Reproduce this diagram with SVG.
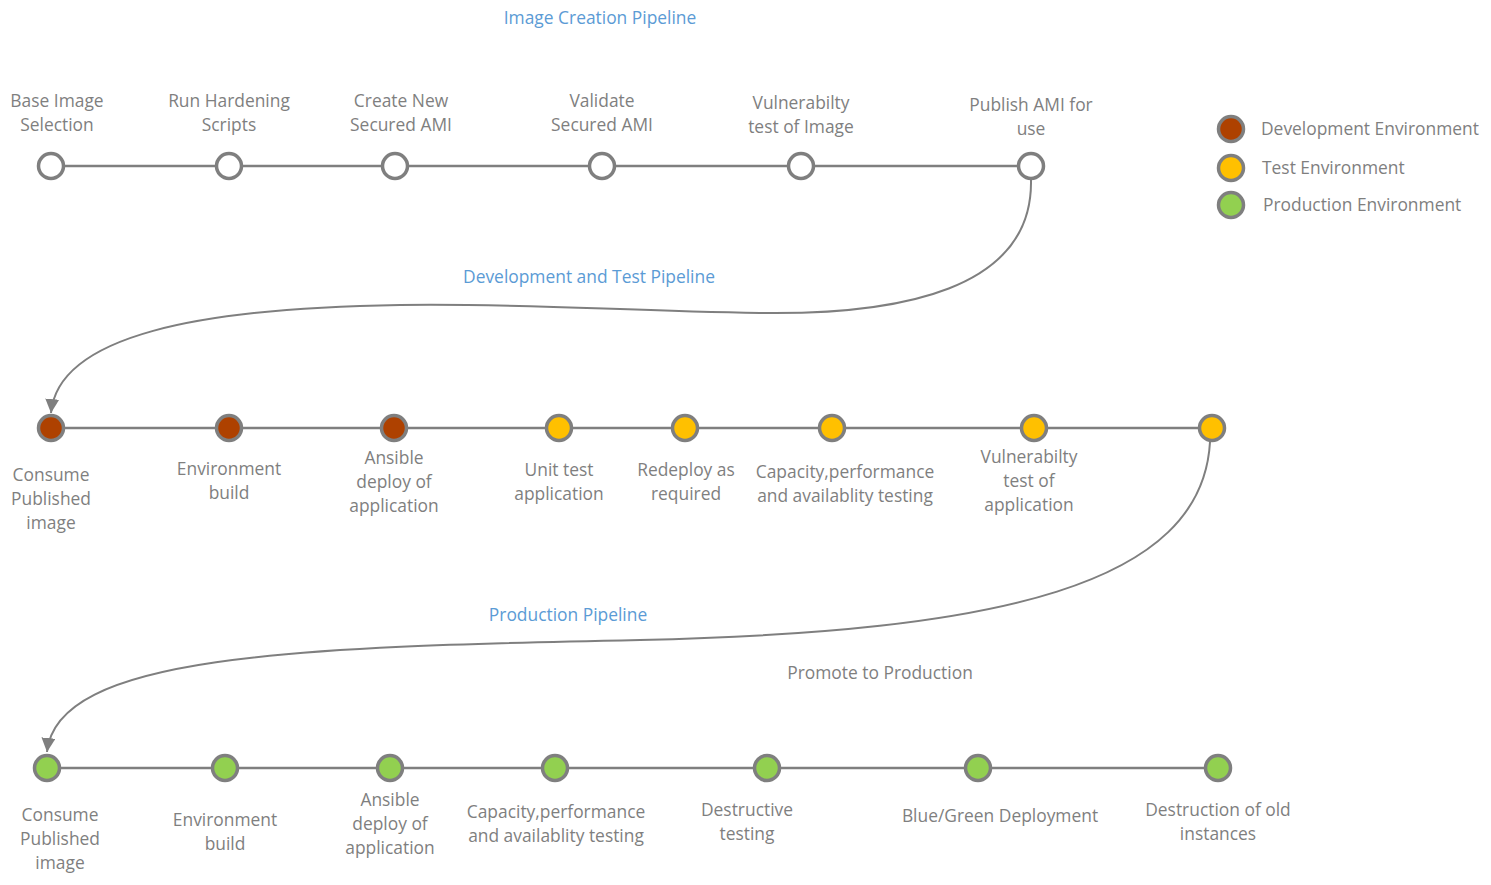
<svg xmlns="http://www.w3.org/2000/svg" width="1491" height="885" viewBox="0 0 1491 885">
  <style>
    text { font-family: "Open Sans", "Noto Sans", sans-serif; font-size: 17.4px; fill: #7f7f7f; text-anchor: middle; }
    text.title { fill: #5b9bd5; }
    text.legend { text-anchor: start; }
    .rail { stroke: #7f7f7f; stroke-width: 2.5; fill: none; }
    .flow { stroke: #7f7f7f; stroke-width: 2; fill: none; marker-end: url(#arrow); }
    .node { stroke: #7f7f7f; stroke-width: 3.5; }
    .blank { fill: #ffffff; }
    .dev { fill: #ae4100; }
    .test { fill: #ffc000; }
    .prod { fill: #92d050; }
  </style>
  <defs>
    <marker id="arrow" viewBox="0 0 10 10" refX="10" refY="5" markerWidth="7" markerHeight="7" orient="auto" markerUnits="strokeWidth">
      <path d="M0,0 L10,5 L0,10 Z" fill="#7f7f7f"/>
    </marker>
  </defs>

  <rect width="1491" height="885" fill="#ffffff"/>

  <!-- section headings -->
  <text class="title" x="600" y="24">Image Creation Pipeline</text>
  <text class="title" x="589" y="283">Development and Test Pipeline</text>
  <text class="title" x="568" y="621">Production Pipeline</text>
  <text x="880" y="679">Promote to Production</text>

  <!-- connectors: rails and pipeline hand-offs -->
  <g id="connectors">
    <line class="rail" x1="51" y1="166" x2="1031" y2="166"/>
    <line class="rail" x1="51" y1="428" x2="1212" y2="428"/>
    <line class="rail" x1="47" y1="768" x2="1218" y2="768"/>
    <path class="flow" d="M1031,180 C1033,290 900,315 760,313 C620,311 520,303 400,305 C200,308 58,335 51,413"/>
    <path class="flow" d="M1210,442 C1202,585 1000,632 640,640 C290,647 57,655 47,752"/>
  </g>

  <!-- image creation stage -->
  <g id="img-base"><circle class="node blank" cx="51" cy="166" r="12.5"/><text x="57" y="107">Base Image</text><text x="57" y="131">Selection</text></g>
  <g id="img-harden"><circle class="node blank" cx="229" cy="166" r="12.5"/><text x="229" y="107">Run Hardening</text><text x="229" y="131">Scripts</text></g>
  <g id="img-create"><circle class="node blank" cx="395" cy="166" r="12.5"/><text x="401" y="107">Create New</text><text x="401" y="131">Secured AMI</text></g>
  <g id="img-validate"><circle class="node blank" cx="602" cy="166" r="12.5"/><text x="602" y="107">Validate</text><text x="602" y="131">Secured AMI</text></g>
  <g id="img-vuln"><circle class="node blank" cx="801" cy="166" r="12.5"/><text x="801" y="109">Vulnerabilty</text><text x="801" y="133">test of Image</text></g>
  <g id="img-publish"><circle class="node blank" cx="1031" cy="166" r="12.5"/><text x="1031" y="111">Publish AMI for</text><text x="1031" y="135">use</text></g>

  <!-- legend -->
  <g id="legend-dev"><circle class="node dev" cx="1231" cy="129" r="12.5"/><text class="legend" x="1261" y="135">Development Environment</text></g>
  <g id="legend-test"><circle class="node test" cx="1231" cy="168" r="12.5"/><text class="legend" x="1262" y="174">Test Environment</text></g>
  <g id="legend-prod"><circle class="node prod" cx="1231" cy="205" r="12.5"/><text class="legend" x="1263" y="211">Production Environment</text></g>

  <!-- development and test stage -->
  <g id="dt-consume"><circle class="node dev" cx="51" cy="428" r="12.5"/><text x="51" y="481">Consume</text><text x="51" y="505">Published</text><text x="51" y="529">image</text></g>
  <g id="dt-envbuild"><circle class="node dev" cx="229" cy="428" r="12.5"/><text x="229" y="475">Environment</text><text x="229" y="499">build</text></g>
  <g id="dt-ansible"><circle class="node dev" cx="394" cy="428" r="12.5"/><text x="394" y="464">Ansible</text><text x="394" y="488">deploy of</text><text x="394" y="512">application</text></g>
  <g id="dt-unit"><circle class="node test" cx="559" cy="428" r="12.5"/><text x="559" y="476">Unit test</text><text x="559" y="500">application</text></g>
  <g id="dt-redeploy"><circle class="node test" cx="685" cy="428" r="12.5"/><text x="686" y="476">Redeploy as</text><text x="686" y="500">required</text></g>
  <g id="dt-capacity"><circle class="node test" cx="832" cy="428" r="12.5"/><text x="845" y="478">Capacity,performance</text><text x="845" y="502">and availablity testing</text></g>
  <g id="dt-vuln"><circle class="node test" cx="1034" cy="428" r="12.5"/><text x="1029" y="463">Vulnerabilty</text><text x="1029" y="487">test of</text><text x="1029" y="511">application</text></g>
  <g id="dt-promote"><circle class="node test" cx="1212" cy="428" r="12.5"/></g>

  <!-- production stage -->
  <g id="pr-consume"><circle class="node prod" cx="47" cy="768" r="12.5"/><text x="60" y="821">Consume</text><text x="60" y="845">Published</text><text x="60" y="869">image</text></g>
  <g id="pr-envbuild"><circle class="node prod" cx="225" cy="768" r="12.5"/><text x="225" y="826">Environment</text><text x="225" y="850">build</text></g>
  <g id="pr-ansible"><circle class="node prod" cx="390" cy="768" r="12.5"/><text x="390" y="806">Ansible</text><text x="390" y="830">deploy of</text><text x="390" y="854">application</text></g>
  <g id="pr-capacity"><circle class="node prod" cx="555" cy="768" r="12.5"/><text x="556" y="818">Capacity,performance</text><text x="556" y="842">and availablity testing</text></g>
  <g id="pr-destructive"><circle class="node prod" cx="767" cy="768" r="12.5"/><text x="747" y="816">Destructive</text><text x="747" y="840">testing</text></g>
  <g id="pr-bluegreen"><circle class="node prod" cx="978" cy="768" r="12.5"/><text x="1000" y="822">Blue/Green Deployment</text></g>
  <g id="pr-destroy"><circle class="node prod" cx="1218" cy="768" r="12.5"/><text x="1218" y="816">Destruction of old</text><text x="1218" y="840">instances</text></g>
</svg>
